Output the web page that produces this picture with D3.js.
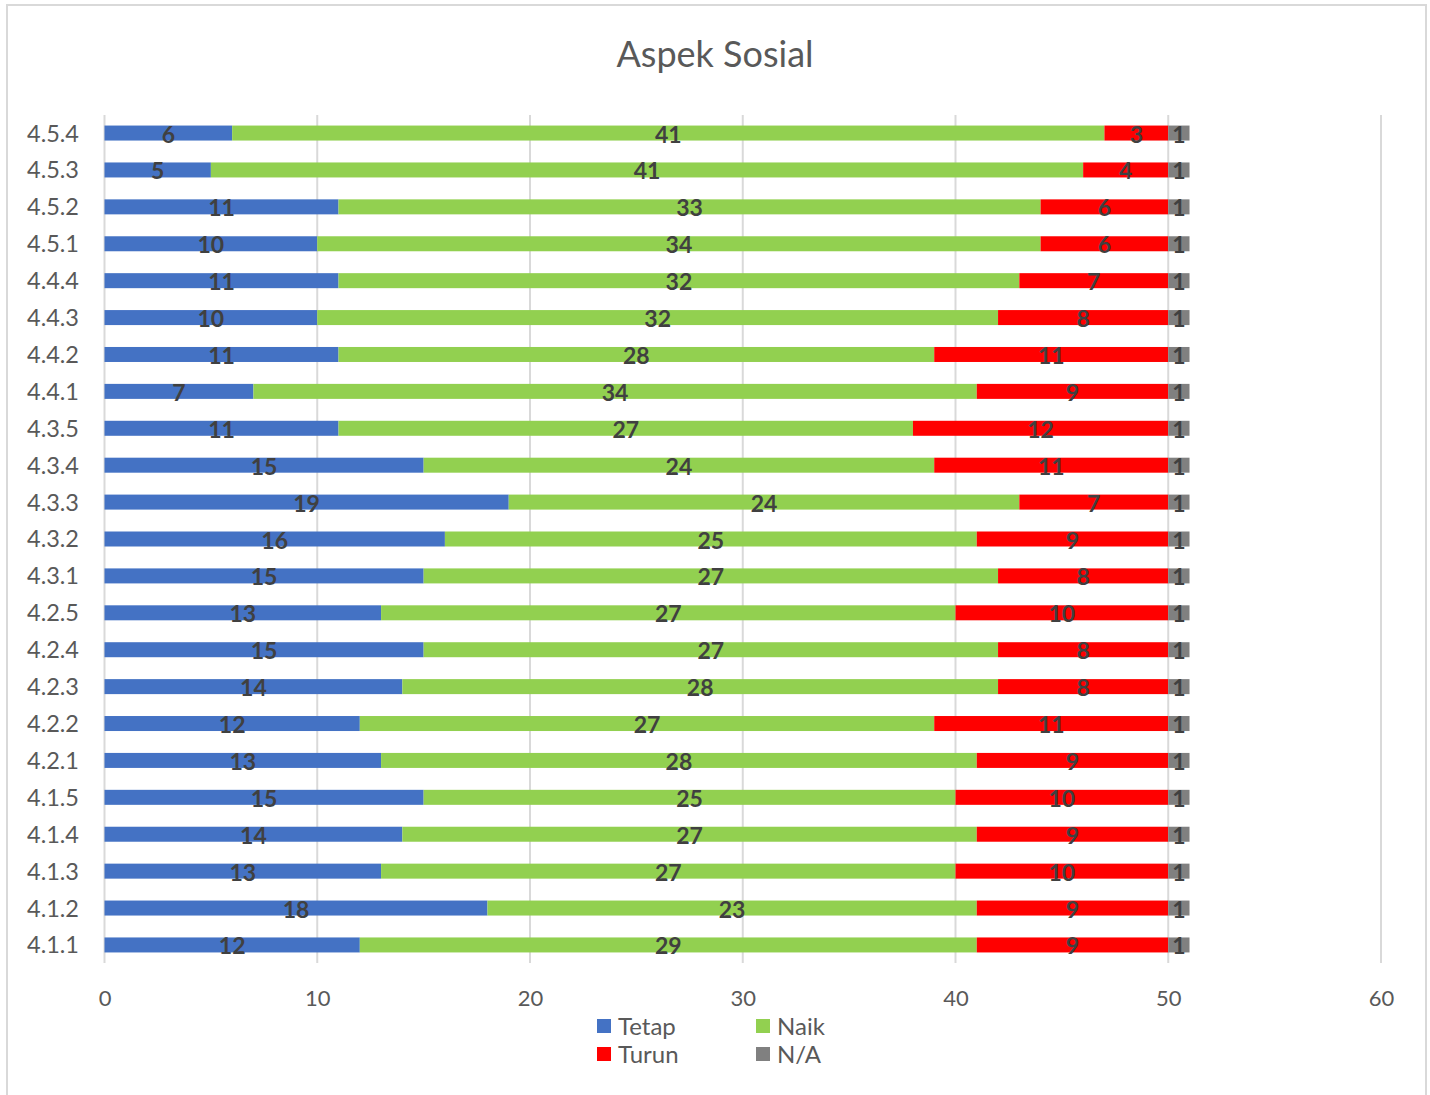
<!DOCTYPE html>
<html>
<head>
<meta charset="utf-8">
<script src="https://cdn.jsdelivr.net/npm/d3@7"></script>
<style>
  html, body { margin: 0; padding: 0; background: #fff; }
  svg { display: block; }
  text { font-family: Lato, "Open Sans", sans-serif; }
</style>
</head>
<body>
<svg id="chart" width="1430" height="1095"></svg>
<script>
// Item codes, listed top to bottom as they appear on the chart
const categories = ["4.5.4","4.5.3","4.5.2","4.5.1","4.4.4","4.4.3","4.4.2","4.4.1",
  "4.3.5","4.3.4","4.3.3","4.3.2","4.3.1","4.2.5","4.2.4","4.2.3","4.2.2","4.2.1",
  "4.1.5","4.1.4","4.1.3","4.1.2","4.1.1"];

// Respondent counts per answer
const tetap = [6,5,11,10,11,10,11,7,11,15,19,16,15,13,15,14,12,13,15,14,13,18,12];
const naik  = [41,41,33,34,32,32,28,34,27,24,24,25,27,27,27,28,27,28,25,27,27,23,29];
const turun = [3,4,6,6,7,8,11,9,12,11,7,9,8,10,8,8,11,9,10,9,10,9,9];
const na    = [1,1,1,1,1,1,1,1,1,1,1,1,1,1,1,1,1,1,1,1,1,1,1];

const seriesNames = ["Tetap","Naik","Turun","N/A"];
const seriesColors = ["#4472C4","#92D050","#FF0000","#808080"];
const xTicks = [0,10,20,30,40,50,60];

const rows = categories.map((c, i) => ({
  cat: c, "Tetap": tetap[i], "Naik": naik[i], "Turun": turun[i], "N/A": na[i]
}));

const svg = d3.select("#chart");

// chart frame
svg.append("rect")
  .attr("x", 7).attr("y", 5).attr("width", 1419).attr("height", 1100)
  .attr("fill", "#fff").attr("stroke", "#d9d9d9").attr("stroke-width", 2);

// title
svg.append("text")
  .attr("x", 715).attr("y", 67)
  .attr("text-anchor", "middle")
  .attr("font-size", 36)
  .attr("fill", "#595959")
  .text("Aspek Sosial");

const x = d3.scaleLinear().domain([0, 60]).range([104.5, 1381]);
const y = d3.scaleBand().domain(categories).range([114.6, 963.4]).padding(0);
const barH = 15;

// vertical gridlines
svg.append("g").selectAll("line")
  .data(xTicks)
  .join("line")
  .attr("x1", d => x(d)).attr("x2", d => x(d))
  .attr("y1", 115).attr("y2", 963)
  .attr("stroke", "#d9d9d9").attr("stroke-width", 2);

// x axis labels
const xAxis = d3.axisBottom(x).tickValues(xTicks).tickSize(0).tickPadding(0);
svg.append("g")
  .attr("transform", "translate(0,1006)")
  .call(xAxis)
  .call(g => g.select(".domain").remove())
  .call(g => g.selectAll("text")
    .attr("font-size", 22).attr("fill", "#595959")
    .attr("font-family", "Lato, 'Open Sans', sans-serif")
    .attr("dy", 0));

// y axis labels
const yAxis = d3.axisLeft(y).tickSize(0).tickPadding(0);
svg.append("g")
  .attr("transform", "translate(79,0)")
  .call(yAxis)
  .call(g => g.select(".domain").remove())
  .call(g => g.selectAll("text")
    .attr("font-size", 23.5).attr("fill", "#595959")
    .attr("font-family", "Lato, 'Open Sans', sans-serif")
    .attr("dy", "0.36em"));

const stack = d3.stack().keys(seriesNames);
const stacked = stack(rows);

const layers = svg.append("g").selectAll("g")
  .data(stacked)
  .join("g")
  .attr("fill", (d, i) => seriesColors[i]);

layers.selectAll("rect")
  .data(d => d)
  .join("rect")
  .attr("x", d => x(d[0]))
  .attr("width", d => x(d[1]) - x(d[0]))
  .attr("y", d => y(d.data.cat) + y.bandwidth() / 2 - barH / 2)
  .attr("height", barH);

// value labels centred on each segment
const labels = svg.append("g").selectAll("g")
  .data(stacked)
  .join("g");

labels.selectAll("text")
  .data(d => d.map(s => ({ s, v: s[1] - s[0] })))
  .join("text")
  .attr("x", d => x((d.s[0] + d.s[1]) / 2))
  .attr("y", d => y(d.s.data.cat) + y.bandwidth() / 2 + 9.5)
  .attr("text-anchor", "middle")
  .attr("font-size", 23)
  .attr("font-weight", "bold")
  .attr("fill", "#404040")
  .text(d => d.v);

// legend
const legendPos = [[597, 1026], [756, 1026], [597, 1054], [756, 1054]];
const legend = svg.append("g").selectAll("g")
  .data(seriesNames)
  .join("g")
  .attr("transform", (d, i) => `translate(${legendPos[i][0]},${legendPos[i][1]})`);

legend.append("rect")
  .attr("x", 0).attr("y", -7).attr("width", 14).attr("height", 14)
  .attr("fill", (d, i) => seriesColors[i]);

legend.append("text")
  .attr("x", 21).attr("y", 0).attr("dy", "0.36em")
  .attr("font-size", 24).attr("fill", "#595959")
  .text(d => d);
</script>
</body>
</html>
